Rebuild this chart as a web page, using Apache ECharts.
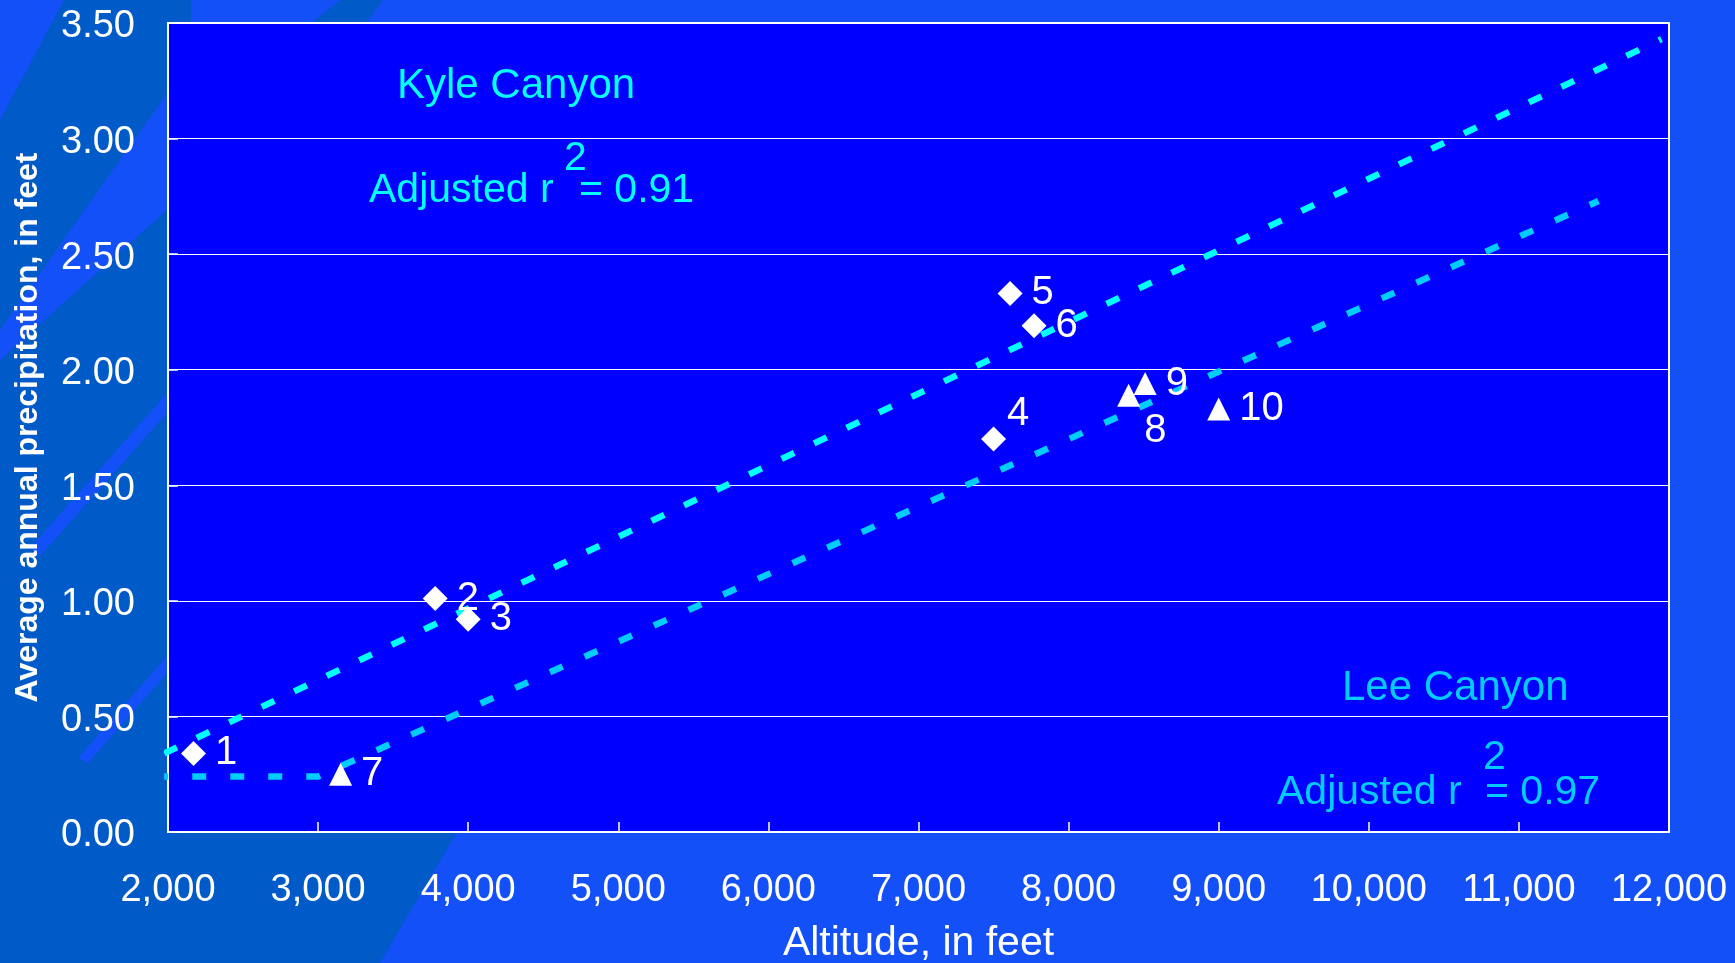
<!DOCTYPE html>
<html>
<head>
<meta charset="utf-8">
<title>Altitude vs. average annual precipitation</title>
<script src="https://cdn.jsdelivr.net/npm/echarts@6/dist/echarts.min.js"></script>
<style>
  html, body { margin: 0; padding: 0; width: 1735px; height: 963px; overflow: hidden; background: #1450F8; }
  .deco { position: absolute; left: 0; top: 0; width: 1735px; height: 963px; }
  .dark { background: #005AC8; }
  .light { background: #1450F8; }
  #chart { position: absolute; left: 0; top: 0; width: 1735px; height: 963px; }
</style>
</head>
<body>
<!-- slide background: darker diagonal band on the left with lighter streaks -->
<div class="deco dark" style="clip-path: polygon(64px 0, 191px 0, 191px 30px, 400px 30px, 470px 832px, 457px 832px, 380px 963px, 0 963px, 0 120px);"></div>
<div class="deco dark" style="clip-path: polygon(340px 0, 383px 0, 365px 24px, 310px 24px);"></div>
<div class="deco light" style="clip-path: polygon(168px 92px, 168px 209px, 0 360px, 0 330px);"></div>
<div class="deco light" style="clip-path: polygon(30px 548px, 168px 392px, 168px 412px, 40px 556px);"></div>
<div class="deco light" style="clip-path: polygon(78px 758px, 168px 655px, 168px 672px, 88px 763px);"></div>
<div id="chart"></div>
<script>
// Kyle Canyon stations (diamonds)
const kyleSites = ['1', '2', '3', '4', '5', '6'];
const kyleAltitude = [2170, 3780, 4000, 7500, 7610, 7770];
const kylePrecip = [0.34, 1.01, 0.92, 1.70, 2.33, 2.19];

// Lee Canyon stations (triangles)
const leeSites = ['7', '8', '9', '10'];
const leeAltitude = [3150, 8400, 8510, 9000];
const leePrecip = [0.25, 1.89, 1.94, 1.83];

// Fitted relations
const kyleFitAltitude = [1975, 11950];
const kyleFitPrecip = [0.34, 3.43];
const leeFitAltitude = [1975, 3000, 11530];
const leeFitPrecip = [0.24, 0.24, 2.73];

// Axis ranges
const xMin = 2000, xMax = 12000, xStep = 1000;
const yMin = 0, yMax = 3.5, yStep = 0.5;

const FONT = '"Liberation Sans", Arial, Helvetica, sans-serif';
const KYLE_COLOR = '#00FFFF';
const LEE_COLOR = '#00CCFF';

// labels that sit off the default right-hand position
const labelShift = { '4': [-8, -25], '8': [-5, 36] };

function zipPoints(names, xs, ys) {
  return xs.map((x, i) => ({ name: names[i], value: [x, ys[i]] }));
}
function zipLine(xs, ys) {
  return xs.map((x, i) => [x, ys[i]]);
}
function pointLabel(name) {
  const s = {
    show: true, position: 'right', distance: 9, opacity: 1,
    formatter: '{b}', color: '#FFFFFF', fontSize: 40, fontFamily: FONT
  };
  if (labelShift[name]) s.offset = labelShift[name];
  return s;
}

const chart = echarts.init(document.getElementById('chart'), null, { renderer: 'canvas' });

function annotation(text, x, y, color, size) {
  return {
    type: 'text', left: x, top: y - 18, z: 100,
    style: { text: text, fill: color, font: size + 'px ' + FONT, verticalAlign: 'top' }
  };
}

const option = {
  backgroundColor: 'transparent',
  animation: false,
  grid: {
    left: 168, top: 23, right: 66, bottom: 131,
    outerBoundsMode: 'none', containLabel: false,
    show: true, backgroundColor: '#0000FF', borderColor: '#FFFFFF', borderWidth: 2
  },
  xAxis: {
    type: 'value', min: xMin, max: xMax, interval: xStep,
    name: 'Altitude, in feet', nameLocation: 'middle', nameGap: 91,
    nameTextStyle: { color: '#FFFFFF', fontSize: 41, fontFamily: FONT },
    axisLine: { show: true, lineStyle: { color: '#FFFFFF', width: 2 } },
    axisTick: { show: true, inside: true, length: 10, lineStyle: { color: '#FFFFFF', width: 1.5 } },
    axisLabel: {
      color: '#FFFFFF', fontSize: 38, fontFamily: FONT, margin: 40,
      formatter: v => v.toLocaleString('en-US')
    },
    splitLine: { show: false }
  },
  yAxis: {
    type: 'value', min: yMin, max: yMax, interval: yStep,
    name: 'Average annual precipitation, in feet', nameLocation: 'middle', nameGap: 124,
    nameTextStyle: { color: '#FFFFFF', fontSize: 32, fontWeight: 'bold', fontFamily: FONT },
    axisLine: { show: true, lineStyle: { color: '#FFFFFF', width: 2 } },
    axisTick: { show: true, inside: true, length: 10, lineStyle: { color: '#FFFFFF', width: 1.5 } },
    axisLabel: {
      fontFamily: FONT, margin: 33,
      formatter: v => '{v|' + v.toFixed(2) + '}',
      rich: { v: { color: '#FFFFFF', fontSize: 38, fontFamily: FONT, padding: [8, 0, 0, 0] } }
    },
    splitLine: { show: true, lineStyle: { color: '#FFFFFF', width: 1.2 } }
  },
  series: [
    {
      name: 'Kyle Canyon fit', type: 'line', data: zipLine(kyleFitAltitude, kyleFitPrecip),
      showSymbol: false, clip: false, z: 2, silent: true,
      lineStyle: { color: KYLE_COLOR, width: 6.5, type: [14, 22] }
    },
    {
      name: 'Lee Canyon fit', type: 'line', data: zipLine(leeFitAltitude, leeFitPrecip),
      showSymbol: false, clip: false, z: 2, silent: true,
      lineStyle: { color: LEE_COLOR, width: 6.5, type: [14, 24], dashOffset: 10 }
    },
    {
      name: 'Kyle Canyon', type: 'scatter', z: 3,
      symbol: 'diamond', symbolSize: 25,
      itemStyle: { color: '#FFFFFF', opacity: 1 },
      data: zipPoints(kyleSites, kyleAltitude, kylePrecip).map(p => Object.assign(p, { label: pointLabel(p.name) }))
    },
    {
      name: 'Lee Canyon', type: 'scatter', z: 3,
      symbol: 'triangle', symbolSize: 23,
      itemStyle: { color: '#FFFFFF', opacity: 1 },
      data: zipPoints(leeSites, leeAltitude, leePrecip).map(p => Object.assign(p, { label: pointLabel(p.name) }))
    }
  ],
  graphic: [
    annotation('Kyle Canyon', 397, 83, KYLE_COLOR, 42),
    annotation('Adjusted r', 369, 188, KYLE_COLOR, 41),
    annotation('2', 564, 156, KYLE_COLOR, 41),
    annotation('= 0.91', 579, 188, KYLE_COLOR, 41),
    annotation('Lee Canyon', 1342, 685, LEE_COLOR, 42),
    annotation('Adjusted r', 1277, 790, LEE_COLOR, 41),
    annotation('2', 1483, 755, LEE_COLOR, 41),
    annotation('= 0.97', 1485, 790, LEE_COLOR, 41)
  ]
};

chart.setOption(option);
</script>
</body>
</html>
